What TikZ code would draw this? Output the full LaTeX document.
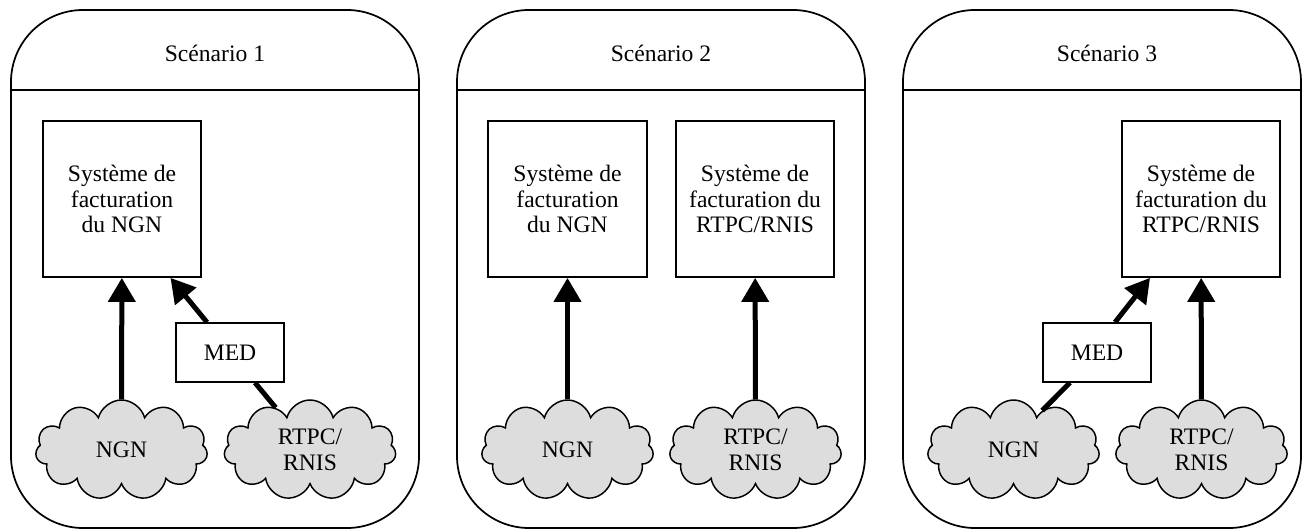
\documentclass[tikz,border=0pt]{standalone}
\usepackage{fontspec}
\setmainfont{Liberation Serif}
\usetikzlibrary{arrows.meta,shapes.symbols}
\definecolor{cloudgray}{RGB}{221,221,221}
\newcommand\diafont{\fontsize{17.7pt}{19.1pt}\selectfont}

\begin{document}
\begin{tikzpicture}[x=0.75pt,y=0.75pt,yscale=-1,
  every node/.style={font=\diafont},
  panel/.style={line width=1.3pt,rounded corners=54pt},
  billbox/.style={draw,line width=1.3pt,minimum width=119pt,minimum height=117pt,align=center,inner sep=0pt},
  medbox/.style={draw,line width=1.3pt,minimum width=81pt,minimum height=44pt,inner sep=0pt},
  net/.style={cloud,cloud puffs=11,aspect=1.7,draw,line width=1.1pt,fill=cloudgray,minimum width=129pt,minimum height=75pt,align=center,inner sep=0pt},
  feed/.style={line width=3.75pt,-{Triangle[width=20pt,length=18pt]}},
  link/.style={line width=3.75pt}]
\useasboundingbox (0,0) rectangle (1303,530);

%Scenario 1
\draw [panel] (11,10) rectangle (419,528) ;
\draw [line width=1.3pt] (11,90) -- (419,90) ;
% Text Node
\node (title1) at (215,53) {Scénario 1};
\node [billbox] (bill1) at (122,199) {Système de\\facturation\\du NGN};
\node [medbox] (med1) at (230,352.5) {MED};
\node [net] (ngn1) at (121.5,450) {NGN};
\node [net] (pstn1) at (310,450) {RTPC/\\RNIS};
\draw [feed] (ngn1) -- (bill1) ;
\draw [feed] ([xshift=-17.25pt]med1.north) -- ([xshift=36.4pt]bill1.south) ;
\draw [link] (pstn1.129) -- ([xshift=18.75pt]med1.south) ;

%Scenario 2
\draw [panel] (457,10) rectangle (865,528) ;
\draw [line width=1.3pt] (457,90) -- (865,90) ;
% Text Node
\node (title2) at (661,53) {Scénario 2};
\node [billbox] (bill2a) at (567.5,199) {Système de\\facturation\\du NGN};
\node [billbox] (bill2b) at (755,199) {Système de\\facturation du\\RTPC/RNIS};
\node [net] (ngn2) at (567.5,450) {NGN};
\node [net] (pstn2) at (755.5,450) {RTPC/\\RNIS};
\draw [feed] (ngn2) -- (bill2a) ;
\draw [feed] (pstn2) -- (bill2b) ;

%Scenario 3
\draw [panel] (903,10) rectangle (1301,528) ;
\draw [line width=1.3pt] (903,90) -- (1301,90) ;
% Text Node
\node (title3) at (1107,53) {Scénario 3};
\node [billbox] (bill3) at (1201,199) {Système de\\facturation du\\RTPC/RNIS};
\node [medbox] (med3) at (1097,352.5) {MED};
\node [net] (ngn3) at (1013.5,450) {NGN};
\node [net] (pstn3) at (1201.5,450) {RTPC/\\RNIS};
\draw [feed] (pstn3) -- (bill3) ;
\draw [feed] ([xshift=13.5pt]med3.north) -- ([xshift=-38.25pt]bill3.south) ;
\draw [link] (ngn3.54) -- ([xshift=-20.25pt]med3.south) ;

\end{tikzpicture}
\end{document}
